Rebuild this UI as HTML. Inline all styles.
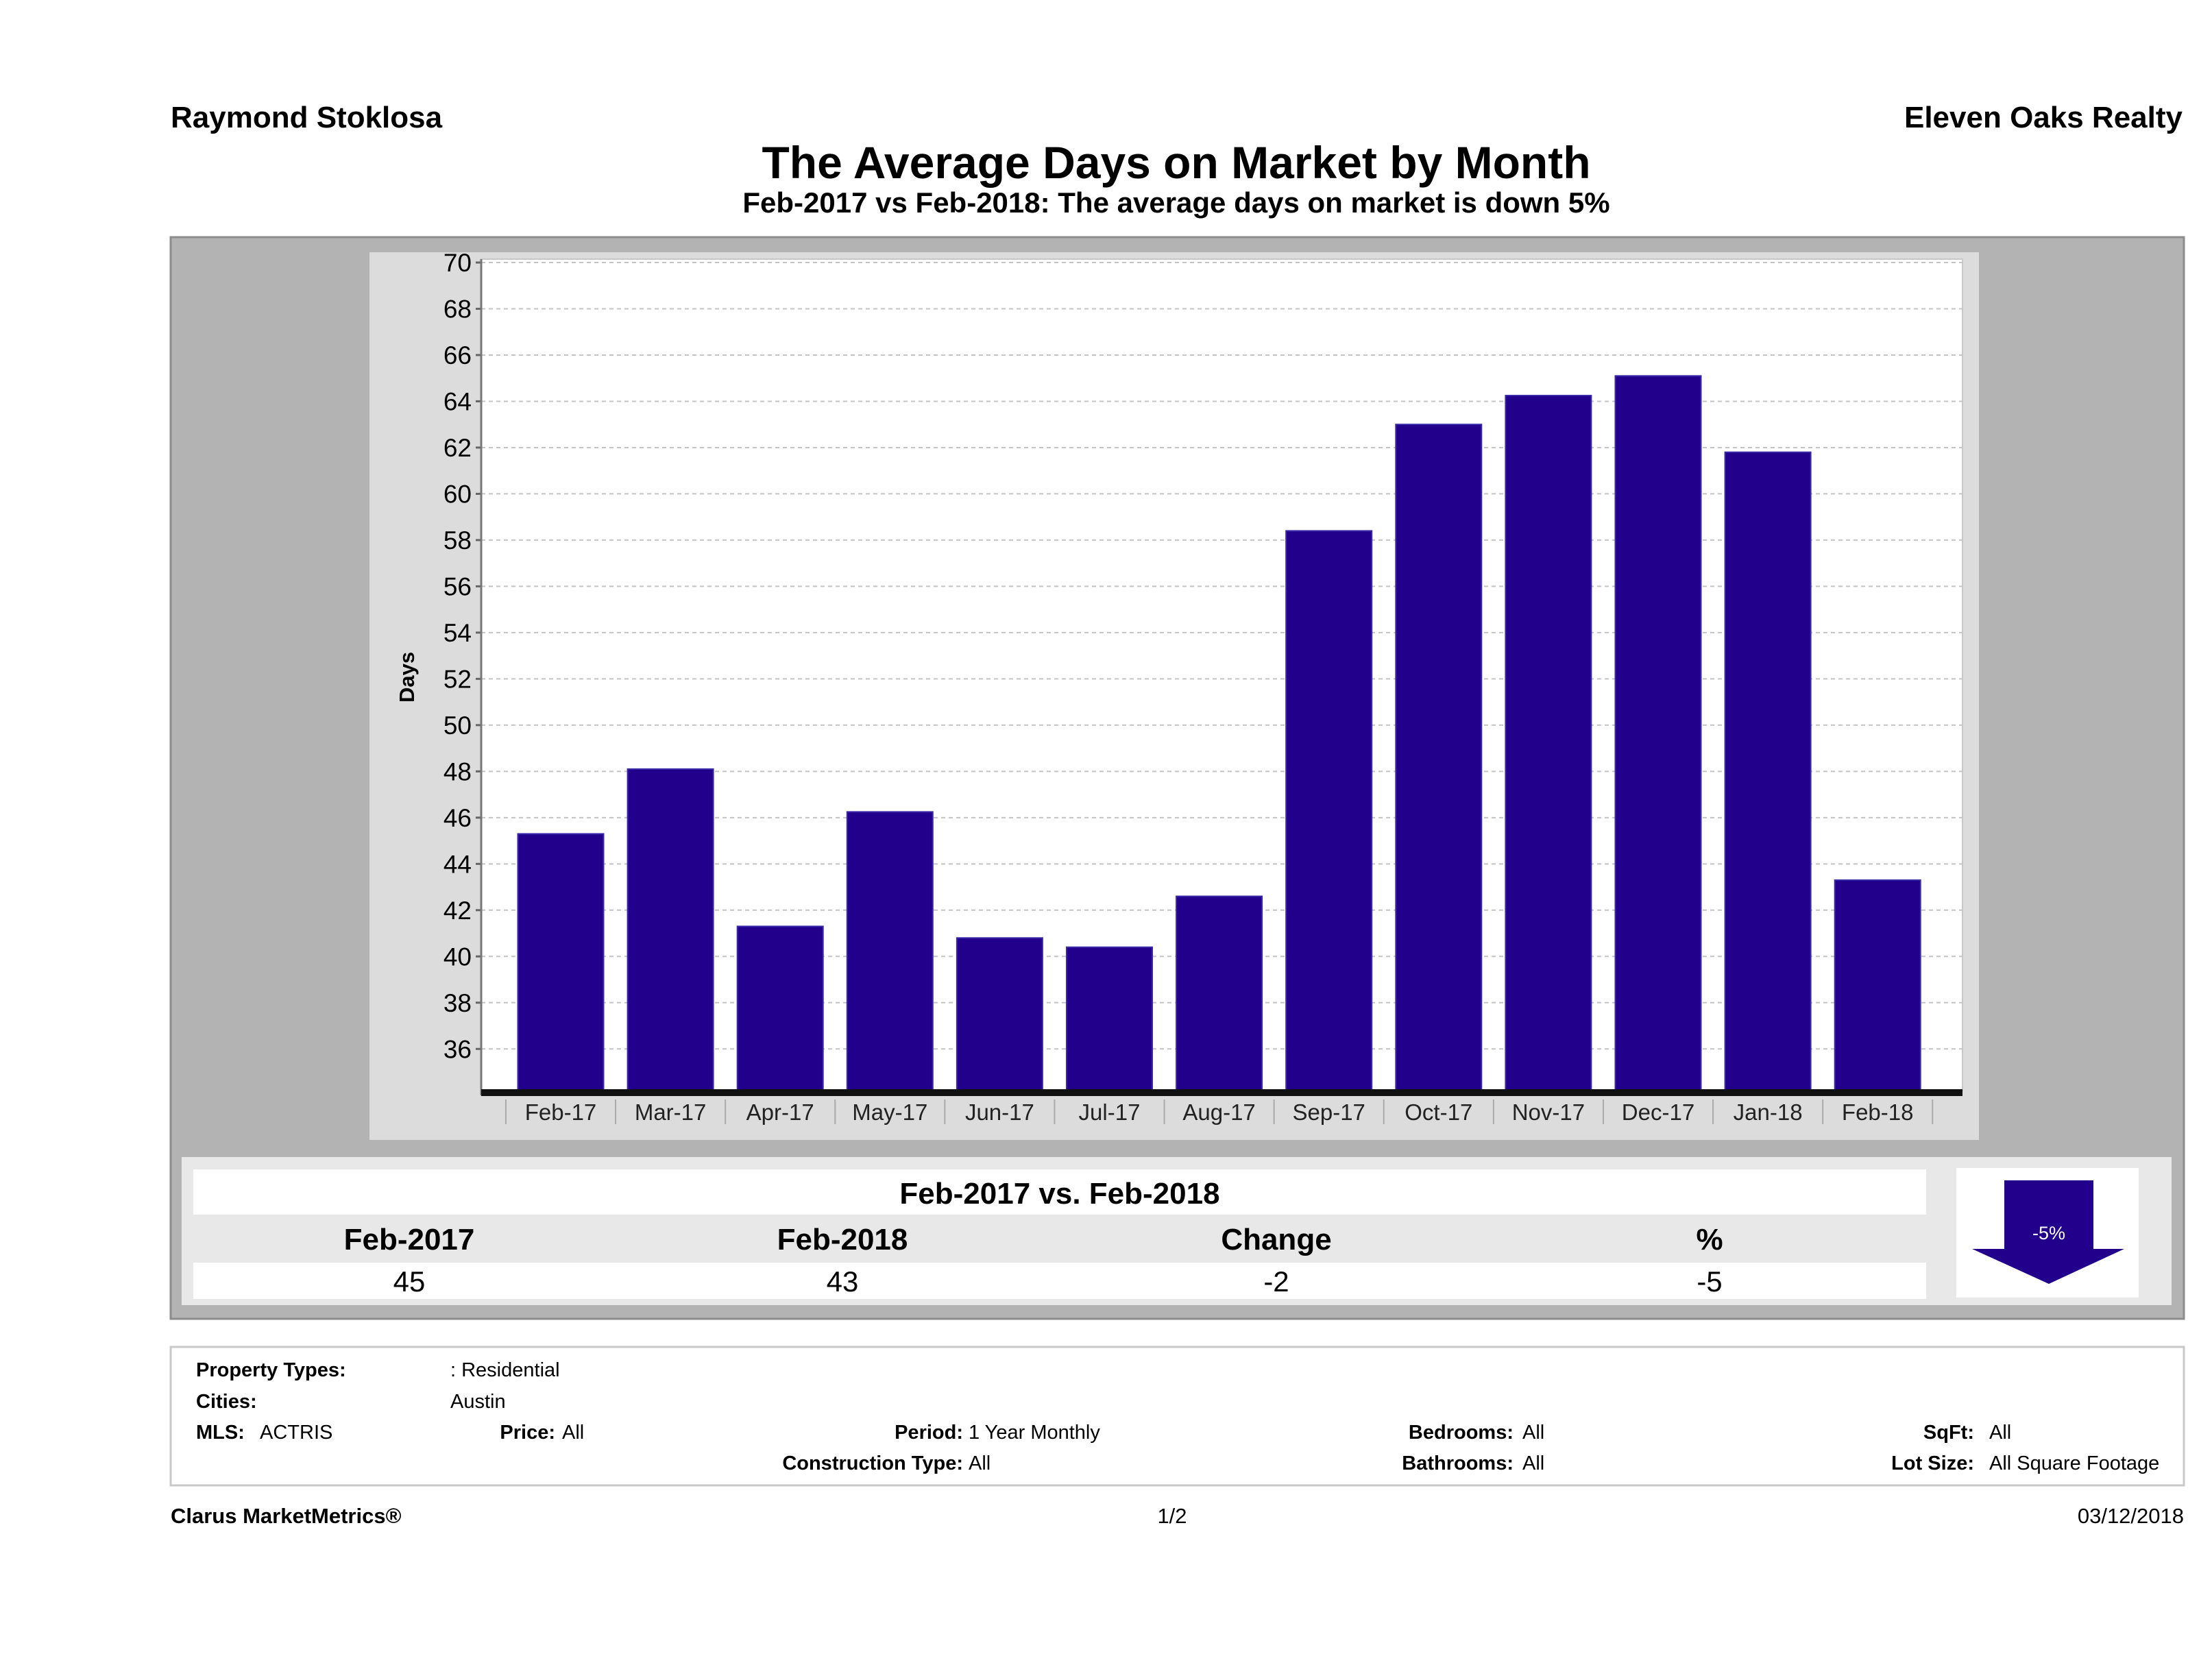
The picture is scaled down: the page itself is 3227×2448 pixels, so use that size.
<!DOCTYPE html>
<html><head><meta charset="utf-8"><style>
html,body{margin:0;padding:0;background:#fff;}
svg{display:block;font-family:"Liberation Sans",sans-serif;}
.n{font-family:"Liberation Sans Narrow","Liberation Sans",sans-serif;}
</style></head><body>
<svg id="page" width="3227" height="2448" viewBox="0 0 3227 2448" xmlns="http://www.w3.org/2000/svg">
<text x="249" y="186" font-size="44" font-weight="bold">Raymond Stoklosa</text>
<text x="3184" y="186" font-size="44" font-weight="bold" text-anchor="end">Eleven Oaks Realty</text>
<text x="1716" y="260" font-size="66" font-weight="bold" text-anchor="middle">The Average Days on Market by Month</text>
<text x="1716" y="310" font-size="42" font-weight="bold" text-anchor="middle">Feb-2017 vs Feb-2018: The average days on market is down 5%</text>
<rect x="249" y="346" width="2937" height="1578" fill="#b3b3b3" stroke="#8c8c8c" stroke-width="3"/>
<rect x="539" y="368" width="2348" height="1295" fill="#dcdcdc"/>
<rect x="702" y="378" width="2161" height="1213" fill="#fff" stroke="#c8c8c8" stroke-width="2"/>
<g id="grid"></g>
<g id="bars"></g>
<g id="yticks"></g>
<g id="xticks"></g>
<line x1="702" y1="378" x2="702" y2="1598" stroke="#777" stroke-width="3"/>
<rect x="702" y="1589" width="2161" height="10" fill="#111"/>
<text x="0" y="0" font-size="31" font-weight="bold" text-anchor="middle" transform="translate(604,988) rotate(-90)">Days</text>

<rect x="265" y="1688" width="2903" height="216" fill="#e8e8e8"/>
<rect x="282" y="1706" width="2528" height="66" fill="#fff"/>
<rect x="282" y="1842" width="2528" height="53" fill="#fff"/>
<text x="1546" y="1756" font-size="44" font-weight="bold" text-anchor="middle">Feb-2017 vs. Feb-2018</text>
<g font-size="44" font-weight="bold" text-anchor="middle">
<text x="597" y="1823">Feb-2017</text>
<text x="1229" y="1823">Feb-2018</text>
<text x="1862" y="1823">Change</text>
<text x="2494" y="1823">%</text>
</g>
<g font-size="42" text-anchor="middle">
<text x="597" y="1884">45</text>
<text x="1229" y="1884">43</text>
<text x="1862" y="1884">-2</text>
<text x="2494" y="1884">-5</text>
</g>
<rect x="2854" y="1704" width="266" height="189" fill="#fff"/>
<polygon points="2924,1722 3054,1722 3054,1822 3099,1822 2989,1873 2877,1822 2924,1822" fill="#22008c"/>
<text x="2989" y="1808" font-size="27" fill="#fff" text-anchor="middle">-5%</text>

<rect x="249" y="1965" width="2937" height="202" fill="#fff" stroke="#c8c8c8" stroke-width="3"/>
<g font-size="29">
<text x="286" y="2008" font-weight="bold">Property Types:</text>
<text x="657" y="2008">: Residential</text>
<text x="286" y="2054" font-weight="bold">Cities:</text>
<text x="657" y="2054">Austin</text>
<text x="286" y="2099" font-weight="bold">MLS:</text>
<text x="379" y="2099">ACTRIS</text>
<text x="810" y="2099" font-weight="bold" text-anchor="end">Price:</text>
<text x="820" y="2099">All</text>
<text x="1405" y="2099" font-weight="bold" text-anchor="end">Period:</text>
<text x="1413" y="2099">1 Year Monthly</text>
<text x="2208" y="2099" font-weight="bold" text-anchor="end">Bedrooms:</text>
<text x="2221" y="2099">All</text>
<text x="2880" y="2099" font-weight="bold" text-anchor="end">SqFt:</text>
<text x="2902" y="2099">All</text>
<text x="1405" y="2144" font-weight="bold" text-anchor="end">Construction Type:</text>
<text x="1413" y="2144">All</text>
<text x="2208" y="2144" font-weight="bold" text-anchor="end">Bathrooms:</text>
<text x="2221" y="2144">All</text>
<text x="2880" y="2144" font-weight="bold" text-anchor="end">Lot Size:</text>
<text x="2902" y="2144">All Square Footage</text>
</g>
<text x="249" y="2222" font-size="31" font-weight="bold">Clarus MarketMetrics®</text>
<text x="1710" y="2222" font-size="31" text-anchor="middle">1/2</text>
<text x="3186" y="2222" font-size="31" text-anchor="end">03/12/2018</text>
</svg>
<script>
const categories = ["Feb-17","Mar-17","Apr-17","May-17","Jun-17","Jul-17","Aug-17","Sep-17","Oct-17","Nov-17","Dec-17","Jan-18","Feb-18"];
const daysValues = [45.3,48.1,41.3,46.25,40.8,40.4,42.6,58.4,63.0,64.25,65.1,61.8,43.3];
const yTickLabels = ["36","38","40","42","44","46","48","50","52","54","56","58","60","62","64","66","68","70"];

const NS = "http://www.w3.org/2000/svg";
const yMin = 34.2, yMax = 70, plotTop = 383, plotBottom = 1591;
function yScale(v){ return plotBottom - (v - yMin) / (yMax - yMin) * (plotBottom - plotTop); }
const firstCenter = 818, step = 160.1, barW = 125;
function xCenter(i){ return firstCenter + i * step; }
function mk(tag, attrs, parent){ const e = document.createElementNS(NS, tag); for (const k in attrs) e.setAttribute(k, attrs[k]); parent.appendChild(e); return e; }

const grid = document.getElementById('grid');
const yt = document.getElementById('yticks');
yTickLabels.forEach(function(t){
  const y = yScale(parseFloat(t));
  const g = mk('line', {x1:702, x2:2863, y1:y, y2:y, stroke:'#c4c4c4', 'stroke-width':2, 'stroke-dasharray':'6,5'}, grid);
  
  
  const tk = mk('line', {x1:694, x2:702, y1:y, y2:y, stroke:'#666', 'stroke-width':3}, yt);
  
  
  const tx = mk('text', {x:688, y:y+13, 'font-size':37, 'text-anchor':'end', class:'n'}, yt);
  tx.textContent = t;
  
  
});

const bars = document.getElementById('bars');
const xt = document.getElementById('xticks');
categories.forEach(function(c, i){
  const cx = xCenter(i);
  const top = yScale(daysValues[i]);
  const r = mk('rect', {x:cx-barW/2, y:top, width:barW, height:plotBottom-top, fill:'#22008c', stroke:'#3a2aa8', 'stroke-width':2}, bars);
  
  
  const tx = mk('text', {x:cx, y:1634, 'font-size':33, 'text-anchor':'middle', class:'n', fill:'#222'}, xt);
  tx.textContent = c;
  
  
  const sep = mk('line', {x1:cx-step/2, x2:cx-step/2, y1:1604, y2:1640, stroke:'#aaa', 'stroke-width':2}, xt);
  
  
  if (i === categories.length - 1) {
    const s2 = mk('line', {x1:cx+step/2, x2:cx+step/2, y1:1604, y2:1640, stroke:'#aaa', 'stroke-width':2}, xt);
    
    
  }
});
</script>
</body></html>
